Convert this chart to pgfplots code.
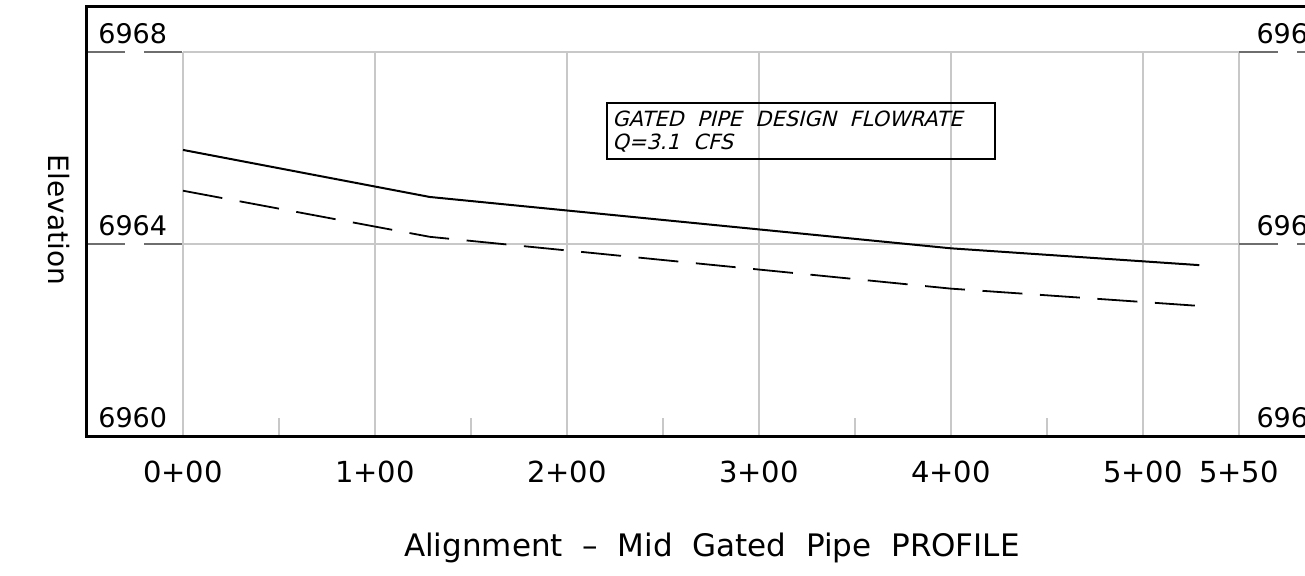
\documentclass[border=0pt]{standalone}
\usepackage{fontspec}
\setmainfont{DejaVu Sans}
\newfontfamily\cadit[FakeSlant=0.25]{DejaVu Sans}
\usepackage{pgfplots}
\pgfplotsset{compat=1.18}
\definecolor{gridgray}{RGB}{200,200,200}
\definecolor{seggray}{RGB}{110,110,110}

\begin{document}
\begin{tikzpicture}
\begin{axis}[
    at={(0pt,0pt)}, anchor=south west,
    scale only axis, width=609pt, height=215.5pt,
    xmin=-50, xmax=584.375, ymin=6960, ymax=6968.979,
    axis line style={draw=none},
    major tick length=0pt,
    xtick={0,100,200,300,400,500,550},
    xticklabels={0+00,1+00,2+00,3+00,4+00,5+00,5+50},
    xticklabel style={anchor=base, yshift=-23pt, font=\fontsize{14.5}{17}\selectfont},
    ytick=\empty,
    clip=false,
  ]
  % grid
  \pgfplotsinvokeforeach{0,100,200,300,400,500,550}{
    \draw[gridgray, line width=0.8pt] (axis cs:#1,6960) -- (axis cs:#1,6968);
  }
  \pgfplotsinvokeforeach{50,150,250,350,450}{
    \draw[gridgray, line width=0.8pt] (axis cs:#1,6960) -- (axis cs:#1,6960.375);
  }
  \pgfplotsinvokeforeach{6964,6968}{
    \draw[gridgray, line width=0.8pt] (axis cs:0,#1) -- (axis cs:550,#1);
    \draw[seggray, line width=0.8pt] (axis cs:-49.5,#1) -- (axis cs:-30.2,#1);
    \draw[seggray, line width=0.8pt] (axis cs:-20.3,#1) -- (axis cs:-0.5,#1);
    \draw[seggray, line width=0.8pt] (axis cs:550,#1) -- (axis cs:570.3,#1);
    \draw[seggray, line width=0.8pt] (axis cs:580.2,#1) -- (axis cs:600,#1);
  }
  % elevation labels, both sides (right ones run off the sheet)
  \pgfplotsinvokeforeach{6960,6964,6968}{
    \node[anchor=base west, inner sep=0pt, yshift=4.5pt, font=\fontsize{13.5}{16}\selectfont]
      at (axis cs:-44.3,#1) {#1};
    \node[anchor=base west, inner sep=0pt, yshift=4.5pt, font=\fontsize{13.5}{16}\selectfont]
      at (axis cs:558.9,#1) {#1};
  }

  % profiles
  \addplot[black, line width=1pt] coordinates {
    (0,6965.96) (128.5,6964.98) (400,6963.91) (529.3,6963.56)
  };
  \addplot[black, line width=0.9pt, dash pattern=on 20pt off 8.8pt] coordinates {
    (0,6965.11) (128.5,6964.15) (400,6963.07) (529.3,6962.71)
  };

  % note box
  \draw[black, line width=0.75pt] (axis cs:220.8,6965.77) rectangle (axis cs:422.9,6966.94);
  \node[anchor=base west, inner sep=0pt, font=\cadit\fontsize{10.5}{12}\selectfont]
    at (axis cs:223.4,6966.44) {GATED\ \ PIPE\ \ DESIGN\ \ FLOWRATE};
  \node[anchor=base west, inner sep=0pt, font=\cadit\fontsize{10.5}{12}\selectfont]
    at (axis cs:223.4,6965.96) {Q=3.1\ \ CFS};

  % frame
  \draw[black, line width=1.5pt] (axis cs:600,6968.95) -- (axis cs:-50,6968.95)
    -- (axis cs:-50,6960) -- (axis cs:600,6960);

  % axis titles
  \node[anchor=base, font=\fontsize{15.5}{19}\selectfont, yshift=-60pt]
    at (axis cs:275.5,6960) {Alignment\ \ --\ \ Mid\ \ Gated\ \ Pipe\ \ PROFILE};
  \node[rotate=-90, font=\fontsize{14}{16}\selectfont] at (axis cs:-64.5,6964.5) {Elevation};
\end{axis}
\pgfresetboundingbox
\useasboundingbox (-43.5pt,-69.5pt) rectangle (609pt,218pt);
\end{tikzpicture}
\end{document}
